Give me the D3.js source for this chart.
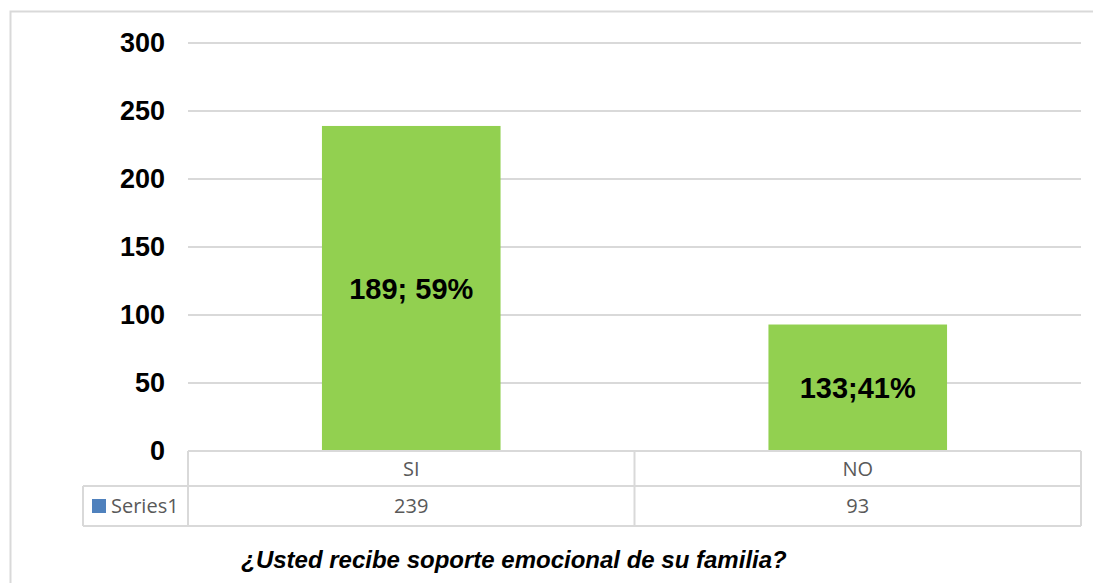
<!DOCTYPE html>
<html><head><meta charset="utf-8">
<script src="https://cdn.jsdelivr.net/npm/d3@7"></script>
<style>body{margin:0;background:#fff}svg{display:block}</style>
</head><body>
<svg id="c" width="1093" height="583"></svg>
<script>
const categories = ["SI", "NO"];
const values = [239, 93];
const barLabels = ["189; 59%", "133;41%"];
const seriesName = "Series1";
const yTicks = [0, 50, 100, 150, 200, 250, 300];
const title = "¿Usted recibe soporte emocional de su familia?";

const svg = d3.select("#c");
const L = 188, R = 1081, T = 43, B = 451;
const rowH1 = 35, rowH2 = 40, legendLeft = 83;
const grid = "#d9d9d9";

// outer border
svg.append("path").attr("d", "M10.5,583 L10.5,11.5 L1093,11.5")
  .attr("fill", "none").attr("stroke", grid).attr("stroke-width", 2);

const x = d3.scaleBand().domain(categories).range([L, R]).paddingInner(0.6).paddingOuter(0.3);
const xc = d3.scaleBand().domain(categories).range([L, R]);
const y = d3.scaleLinear().domain([0, 300]).range([B, T]);

// gridlines
svg.append("g").selectAll("line").data(yTicks.filter(d => d > 0)).join("line")
  .attr("x1", L).attr("x2", R).attr("y1", d => y(d)).attr("y2", d => y(d))
  .attr("stroke", grid).attr("stroke-width", 2);

// y axis labels
const yAxis = d3.axisLeft(y).tickValues(yTicks).tickSize(0).tickPadding(23);
const ga = svg.append("g").attr("transform", `translate(${L},0)`).call(yAxis);
ga.select(".domain").remove();
ga.selectAll("text").attr("font-family", "Liberation Sans, Arial, sans-serif")
  .attr("font-weight", "bold").attr("font-size", 27).attr("fill", "#000").attr("dy", "0.32em");

// bars
svg.append("g").selectAll("rect").data(values).join("rect")
  .attr("x", (d, i) => x(categories[i])).attr("width", x.bandwidth())
  .attr("y", d => y(d)).attr("height", d => y(0) - y(d)).attr("fill", "#92D050");

// bar labels
svg.append("g").selectAll("text").data(barLabels).join("text")
  .attr("x", (d, i) => x(categories[i]) + x.bandwidth() / 2)
  .attr("y", (d, i) => y(values[i] * 0.5))
  .attr("text-anchor", "middle").attr("dy", "0.35em")
  .attr("font-family", "Liberation Sans, Arial, sans-serif").attr("font-weight", "bold")
  .attr("font-size", 29).attr("fill", "#000").text(d => d);

// data table
const tg = svg.append("g").attr("fill", "none").attr("stroke", grid).attr("stroke-width", 2);
tg.append("line").attr("x1", L).attr("x2", R).attr("y1", B).attr("y2", B);
tg.append("line").attr("x1", legendLeft).attr("x2", R).attr("y1", B + rowH1).attr("y2", B + rowH1);
tg.append("line").attr("x1", legendLeft).attr("x2", R).attr("y1", B + rowH1 + rowH2).attr("y2", B + rowH1 + rowH2);
tg.append("line").attr("x1", legendLeft).attr("x2", legendLeft).attr("y1", B + rowH1).attr("y2", B + rowH1 + rowH2);
[L, ...categories.map(c => xc(c) + xc.bandwidth())].forEach(xx => {
  tg.append("line").attr("x1", xx).attr("x2", xx).attr("y1", B).attr("y2", B + rowH1 + rowH2);
});

const tf = "Open Sans, sans-serif";
svg.append("g").selectAll("text").data(categories).join("text")
  .attr("x", d => xc(d) + xc.bandwidth() / 2).attr("y", B + rowH1 / 2).attr("dy", "0.35em")
  .attr("text-anchor", "middle").attr("font-family", tf).attr("font-size", 20).attr("fill", "#595959").text(d => d);
svg.append("g").selectAll("text").data(values).join("text")
  .attr("x", (d, i) => xc(categories[i]) + xc.bandwidth() / 2).attr("y", B + rowH1 + rowH2 / 2).attr("dy", "0.35em")
  .attr("text-anchor", "middle").attr("font-family", tf).attr("font-size", 20).attr("fill", "#595959").text(d => d);

svg.append("rect").attr("x", 92).attr("y", 499).attr("width", 14).attr("height", 14).attr("fill", "#4F81BD");
svg.append("text").attr("x", 111).attr("y", B + rowH1 + rowH2 / 2).attr("dy", "0.35em")
  .attr("font-family", tf).attr("font-size", 20).attr("fill", "#595959").text(seriesName);

// title
svg.append("text").attr("x", 514).attr("y", 568).attr("text-anchor", "middle")
  .attr("font-family", "Liberation Sans, Arial, sans-serif").attr("font-weight", "bold").attr("font-style", "italic")
  .attr("font-size", 24).attr("fill", "#000").text(title);
</script>
</body></html>
